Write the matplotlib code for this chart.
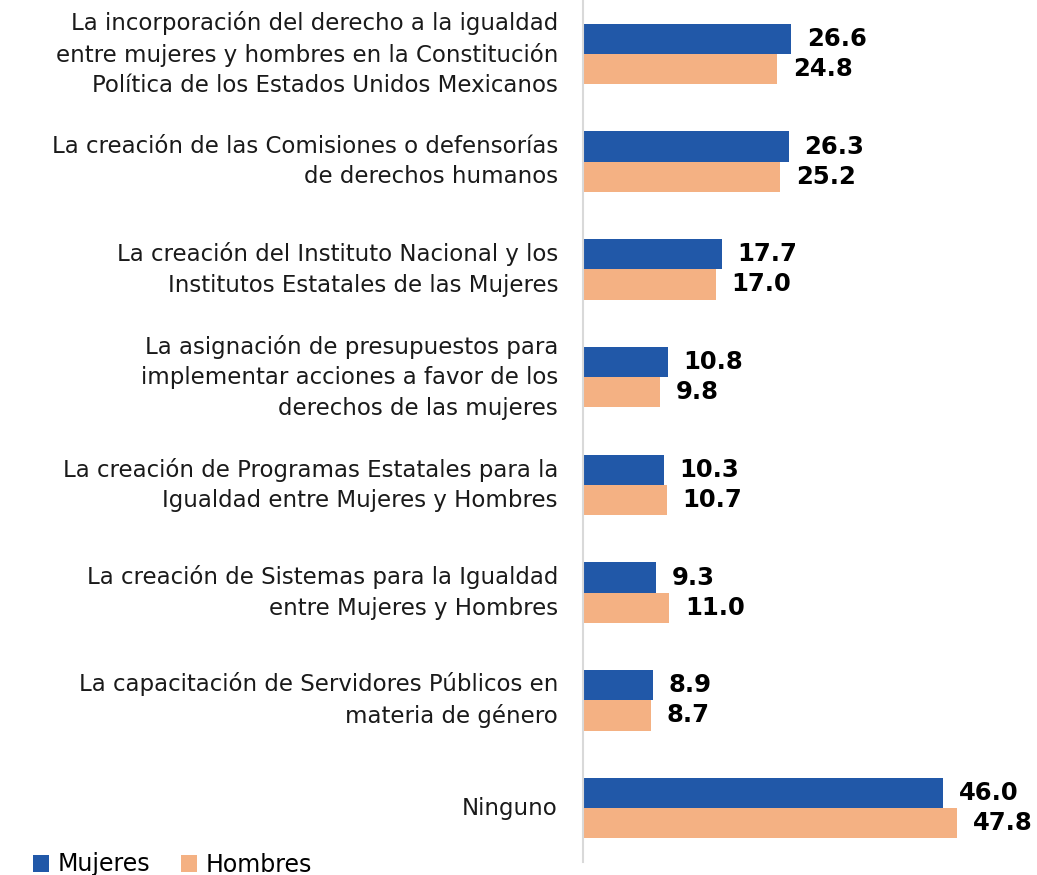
import matplotlib
matplotlib.use("Agg")
import matplotlib.pyplot as plt
from matplotlib.patches import Patch

categories = [
    "La incorporación del derecho a la igualdad\nentre mujeres y hombres en la Constitución\nPolítica de los Estados Unidos Mexicanos",
    "La creación de las Comisiones o defensorías\nde derechos humanos",
    "La creación del Instituto Nacional y los\nInstitutos Estatales de las Mujeres",
    "La asignación de presupuestos para\nimplementar acciones a favor de los\nderechos de las mujeres",
    "La creación de Programas Estatales para la\nIgualdad entre Mujeres y Hombres",
    "La creación de Sistemas para la Igualdad\nentre Mujeres y Hombres",
    "La capacitación de Servidores Públicos en\nmateria de género",
    "Ninguno",
]
mujeres = [26.6, 26.3, 17.7, 10.8, 10.3, 9.3, 8.9, 46.0]
hombres = [24.8, 25.2, 17.0, 9.8, 10.7, 11.0, 8.7, 47.8]
series_names = ["Mujeres", "Hombres"]

BLUE = "#2158A8"
ORANGE = "#F4B183"
TXT = "#1a1a1a"
FONT = "DejaVu Sans"

fig = plt.figure(figsize=(10.37, 8.75), dpi=100)
ax = fig.add_axes([583 / 1037, 13 / 875, 454 / 1037, 862 / 875])

h = 0.28
ys = list(range(len(categories)))
ax.barh([y - h / 2 for y in ys], mujeres, height=h, color=BLUE, label=series_names[0])
ax.barh([y + h / 2 for y in ys], hombres, height=h, color=ORANGE, label=series_names[1])

for y, m, w in zip(ys, mujeres, hombres):
    ax.text(m + 2.0, y - h / 2, f"{m:.1f}", va="center", ha="left",
            fontsize=17.5, fontweight="bold", color="black", family=FONT)
    ax.text(w + 2.0, y + h / 2, f"{w:.1f}", va="center", ha="left",
            fontsize=17.5, fontweight="bold", color="black", family=FONT)

ax.set_xlim(0, 58.0)
ax.set_ylim(len(categories) - 0.5, -0.5)
ax.set_yticks(ys)
ax.set_yticklabels(categories, fontsize=16.5, color=TXT, family=FONT,
                   linespacing=1.42, va="center")
ax.tick_params(axis="y", length=0, pad=18)
ax.set_xticks([])
for s in ["top", "right", "bottom"]:
    ax.spines[s].set_visible(False)
ax.spines["left"].set_color("#D9D9D9")
ax.spines["left"].set_linewidth(1.5)

handles = [Patch(facecolor=BLUE, label=series_names[0]),
           Patch(facecolor=ORANGE, label=series_names[1])]
fig.legend(handles=handles, loc="lower left", bbox_to_anchor=(0.011, -0.026), ncol=2,
           frameon=False, prop={"family": FONT, "size": 17}, handlelength=0.7,
           handleheight=0.7, handletextpad=0.35, columnspacing=1.3)

fig.savefig("out.png", dpi=100)
